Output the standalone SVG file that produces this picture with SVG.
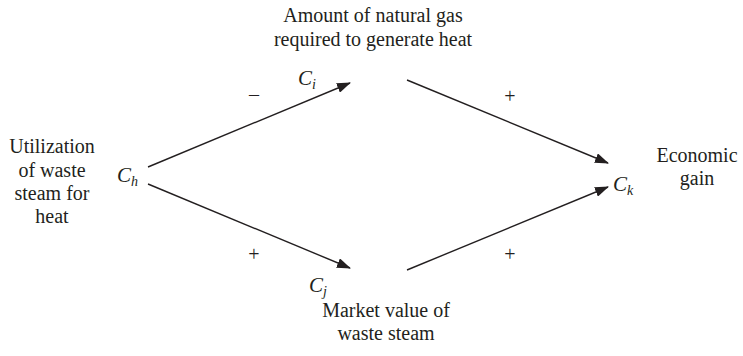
<svg xmlns="http://www.w3.org/2000/svg" width="743" height="356" viewBox="0 0 743 356" font-family="'Liberation Serif', 'DejaVu Serif', 'Times New Roman', serif">
<style>
text{font-family:'Liberation Serif','DejaVu Serif','Times New Roman',serif;fill:#231f20}
.lbl{font-size:20px;text-anchor:middle}
.var{font-size:21px;font-style:italic}
.sub{font-size:14px;font-style:italic}
.sign{font-size:20px;text-anchor:middle}
.edge{stroke:#231f20;stroke-width:1.4;fill:none;marker-end:url(#ah)}
</style>
<defs>
<marker id="ah" markerUnits="userSpaceOnUse" markerWidth="14" markerHeight="10" refX="13" refY="5" orient="auto">
<path d="M0,0 L14,5 L0,10 Z" fill="#231f20"/>
</marker>
</defs>
<rect width="743" height="356" fill="#fff"/>
<g id="connectors">
<line class="edge" x1="148" y1="167" x2="350" y2="83"/>
<line class="edge" x1="148" y1="184" x2="350" y2="268"/>
<line class="edge" x1="407" y1="80" x2="608" y2="163"/>
<line class="edge" x1="407" y1="270" x2="608" y2="187"/>
<text class="sign" x="254" y="101">–</text>
<text class="sign" x="510" y="103">+</text>
<text class="sign" x="254" y="261">+</text>
<text class="sign" x="510" y="261">+</text>
</g>
<g id="Ch">
<text class="lbl" x="52" y="153">Utilization</text>
<text class="lbl" x="52" y="177">of waste</text>
<text class="lbl" x="52" y="200">steam for</text>
<text class="lbl" x="52" y="223">heat</text>
<text class="var" x="117" y="182">C<tspan class="sub" dy="4">h</tspan></text>
</g>
<g id="Ci">
<text class="lbl" x="373" y="22">Amount of natural gas</text>
<text class="lbl" x="373" y="46">required to generate heat</text>
<text class="var" x="298" y="85">C<tspan class="sub" dy="4">i</tspan></text>
</g>
<g id="Cj">
<text class="var" x="309" y="292">C<tspan class="sub" dy="4">j</tspan></text>
<text class="lbl" x="386" y="317">Market value of</text>
<text class="lbl" x="386" y="340">waste steam</text>
</g>
<g id="Ck">
<text class="var" x="613" y="191">C<tspan class="sub" dy="4">k</tspan></text>
<text class="lbl" x="697" y="162">Economic</text>
<text class="lbl" x="697" y="185">gain</text>
</g>
</svg>
